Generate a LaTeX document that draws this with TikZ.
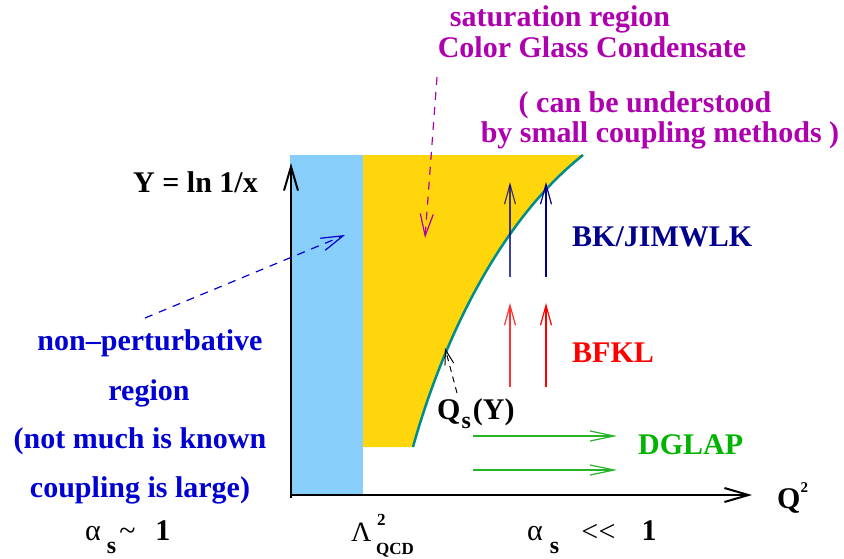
\documentclass[tikz,border=0pt]{standalone}
\usepackage{fontspec}
\setmainfont{Liberation Serif}
\usetikzlibrary{arrows.meta}
\definecolor{sky}{RGB}{135,206,250}
\definecolor{satgold}{RGB}{255,214,12}
\definecolor{curveteal}{RGB}{0,140,140}
\definecolor{magtext}{RGB}{175,0,175}
\definecolor{bluetext}{RGB}{0,0,210}
\definecolor{navytext}{RGB}{0,0,140}
\definecolor{greentext}{RGB}{0,180,0}
\definecolor{greenarrow}{RGB}{40,180,40}
\newcommand{\bigf}{\fontsize{30}{36}\selectfont}
\newcommand{\subf}{\fontsize{24}{24}\selectfont\bfseries}
\newcommand{\tinyf}{\fontsize{15}{15}\selectfont\bfseries}
\begin{document}
\begin{tikzpicture}[x=1pt,y=-1pt,
  lbl/.style={font=\bigf\bfseries, inner sep=0pt, anchor=base west},
  clbl/.style={font=\bigf\bfseries, inner sep=0pt, anchor=base},
  axis/.style={line width=2.4pt, -{Straight Barb[length=24pt,width=14pt,line width=2pt]}},
  evo/.style={line width=1.2pt, -{Straight Barb[length=20pt,width=11pt]}},
  dglap/.style={line width=1.2pt, greenarrow, -{Straight Barb[length=24pt,width=10pt]}},
  pointer/.style={line width=1.2pt, dash pattern=on 8pt off 7pt, -{Straight Barb[length=22pt,width=13pt]}}
]
\path[use as bounding box] (0,0) rectangle (844,558);

% regions
\fill[satgold] (363,155) -- (583,155) .. controls (495,225) and (440,350) .. (413,447) -- (363,447) -- cycle;
\draw[curveteal, line width=2.5pt] (413,447) .. controls (440,350) and (495,225) .. (583,155);
\fill[sky] (290,155) rectangle (363,495);

% axes
\coordinate (origin) at (291,495);
\coordinate (ytop) at (291,163);
\coordinate (ybot) at (291,498);
\coordinate (xend) at (752,495);
\draw[axis] (ybot) -- (ytop);
\draw[axis] (290,495) -- (xend);

% axis labels
\node[lbl] (ylabel) at (133,192) {Y = ln 1/x};
\node[lbl] (qlabel) at (777,508) {Q\raisebox{16pt}{\tinyf 2}};

% bottom labels
\node[font=\bigf, inner sep=0pt, anchor=base west] (alphabig) at (85,540)
  {α\hspace{6pt}\raisebox{-13pt}{\subf s}\hspace{3pt}\textasciitilde\hspace{20pt}{\bfseries 1}};
\node[font=\fontsize{28}{30}\selectfont, inner sep=0pt, anchor=base west] (lambda) at (351,541) {Λ};
\node[font=\fontsize{17}{17}\selectfont\bfseries, inner sep=0pt, anchor=base west] (lambdasup) at (377,525) {2};
\node[font=\fontsize{17}{17}\selectfont\bfseries, inner sep=0pt, anchor=base west] (lambdasub) at (376,554) {QCD};
\node[font=\bigf, inner sep=0pt, anchor=base west] (alphasmall) at (527,540)
  {α\hspace{7pt}\raisebox{-13pt}{\subf s}\hspace{22pt}\raisebox{-1pt}{<\kern0.5pt<}\hspace{26pt}{\bfseries 1}};

% left text
\node[clbl, bluetext] (np1) at (150,350) {non–perturbative};
\node[clbl, bluetext] (np2) at (149,400) {region};
\node[clbl, bluetext] (np3) at (140,448) {(not much is known};
\node[clbl, bluetext] (np4) at (140,497) {coupling is large)};

% top text
\node[clbl, magtext] (sat1) at (560,26) {saturation region};
\node[clbl, magtext] (sat2) at (592,57) {Color Glass Condensate};
\node[clbl, magtext] (sat3) at (645,112) {( can be understood};
\node[clbl, magtext] (sat4) at (660,142) {by small coupling methods )};

% evolution labels
\node[lbl, navytext] (bk) at (572,246) {BK/JIMWLK};
\node[lbl, red] (bfkl) at (572,362) {BFKL};
\node[lbl, greentext] (dg) at (638,454) {DGLAP};

% Qs label
\node[font=\bigf\bfseries, inner sep=0pt, anchor=base west] (qs) at (437,419)
  {Q\hspace{1pt}\raisebox{-9pt}{\subf s}\hspace{2pt}(Y)};

% evolution arrows
\coordinate (bka0) at (510,277); \coordinate (bka1) at (510,182);
\coordinate (bkb0) at (546,277); \coordinate (bkb1) at (546,182);
\draw[evo, navytext, opacity=0.75] (bka0) -- (bka1);
\draw[evo, navytext] (bkb0) -- (bkb1);
\coordinate (bfa0) at (510,387); \coordinate (bfa1) at (510,303);
\coordinate (bfb0) at (546,387); \coordinate (bfb1) at (546,303);
\draw[evo, red!80] (bfa0) -- (bfa1);
\draw[evo, red] (bfb0) -- (bfb1);
\coordinate (dga0) at (473,436); \coordinate (dga1) at (617,436);
\coordinate (dgb0) at (473,470); \coordinate (dgb1) at (617,470);
\draw[dglap] (dga0) -- (dga1);
\draw[dglap] (dgb0) -- (dgb1);

% pointers
\coordinate (satfrom) at (437,77); \coordinate (satto) at (425,238);
\draw[pointer, magtext] (satfrom) -- (satto);
\coordinate (npfrom) at (145,318); \coordinate (npto) at (345,235);
\draw[pointer, bluetext] (npfrom) -- (npto);
\coordinate (qsfrom) at (457,393); \coordinate (qsto) at (445,348);
\draw[line width=1pt, dash pattern=on 6pt off 5pt, -{Straight Barb[length=15pt,width=9pt]}] (qsfrom) -- (qsto);
\end{tikzpicture}
\end{document}
